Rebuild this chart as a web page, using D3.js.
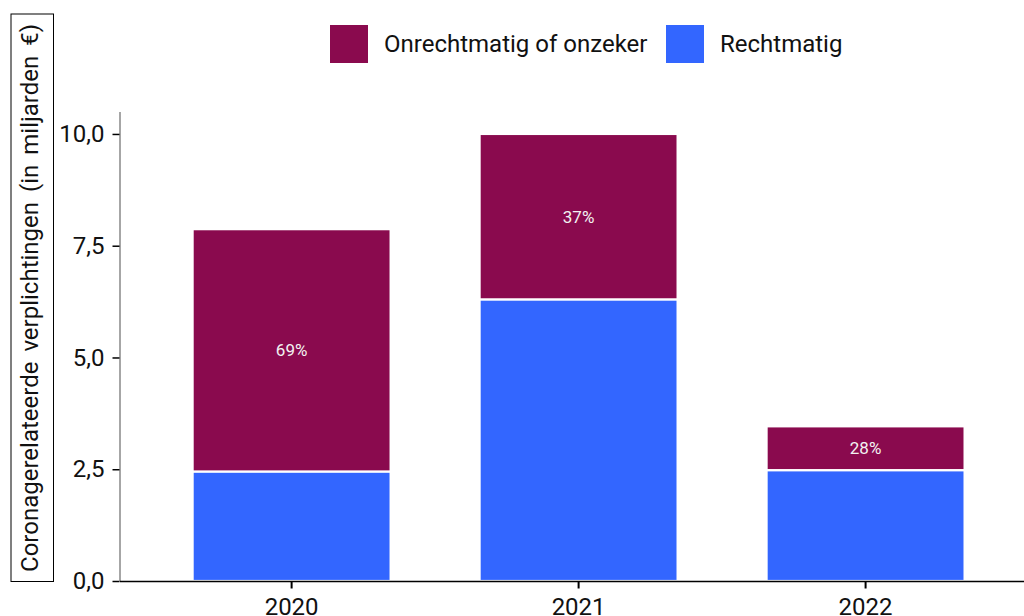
<!DOCTYPE html>
<html><head><meta charset="utf-8">
<script src="https://cdn.jsdelivr.net/npm/d3@7"></script>
<style>body{margin:0;background:#fff}svg{display:block;font-family:Roboto,sans-serif}</style>
</head><body><svg id="c" width="1024" height="616"></svg>
<script>
const years = ["2020","2021","2022"];
const rechtmatig = [2.45, 6.30, 2.48];
const onrechtmatig = [5.42, 3.70, 0.98];
const pctLabels = ["69%","37%","28%"];
const seriesNames = ["Onrechtmatig of onzeker","Rechtmatig"];
const seriesColors = ["#8A0A4E","#3366FF"];
const yTicks = [0, 2.5, 5, 7.5, 10];
const yTickLabels = ["0,0","2,5","5,0","7,5","10,0"];
const yTitle = "Coronagerelateerde verplichtingen (in miljarden €)";

const svg = d3.select("#c");
const x = d3.scaleBand().domain(years).range([120,1024]).paddingInner(0.31).paddingOuter(0.23).align(0.55);
const y = d3.scaleLinear().domain([0,10.5]).range([581,111.6]);

// bars
const g = svg.append("g");
years.forEach((yr,i)=>{
  const r = rechtmatig[i], o = onrechtmatig[i];
  g.append("rect").attr("x",x(yr)).attr("width",x.bandwidth())
    .attr("y",y(r)).attr("height",y(0)-y(r)).attr("fill",seriesColors[1])
    .attr("stroke","#fff").attr("stroke-width",2.2);
  g.append("rect").attr("x",x(yr)).attr("width",x.bandwidth())
    .attr("y",y(r+o)).attr("height",y(r)-y(r+o)).attr("fill",seriesColors[0])
    .attr("stroke","#fff").attr("stroke-width",2.2);
  g.append("text").attr("x",x(yr)+x.bandwidth()/2).attr("y",(y(r)+y(r+o))/2)
    .attr("text-anchor","middle").attr("dominant-baseline","central")
    .attr("fill","#f2f2f2").attr("font-size",17).text(pctLabels[i]);
});

// y axis
const ya = svg.append("g").attr("transform","translate(119.5,0)")
  .call(d3.axisLeft(y).tickValues(yTicks).tickFormat((d,i)=>yTickLabels[i]).tickSize(7).tickPadding(8).tickSizeOuter(0));
ya.select(".domain").attr("stroke","#888").attr("stroke-width",1.5);
ya.selectAll(".tick line").attr("stroke","#000").attr("stroke-width",1.5);
ya.selectAll(".tick text").attr("font-size",24).attr("fill","#111").attr("font-family","Roboto,sans-serif");

// x axis
const xa = svg.append("g").attr("transform","translate(0,581.5)")
  .call(d3.axisBottom(x).tickSize(7).tickPadding(9).tickSizeOuter(0));
xa.select(".domain").attr("stroke","#000").attr("stroke-width",1.5).attr("d","M120,0H1024");
xa.selectAll(".tick line").attr("stroke","#000").attr("stroke-width",2);
xa.selectAll(".tick text").attr("font-size",24).attr("fill","#111").attr("font-family","Roboto,sans-serif");

// y title with box
svg.append("rect").attr("x",11).attr("y",14).attr("width",42.5).attr("height",567.5)
  .attr("fill","none").attr("stroke","#000").attr("stroke-width",1);
svg.append("text").attr("transform","translate(37.5,298) rotate(-90)")
  .attr("text-anchor","middle")
  .attr("font-size",24).attr("fill","#111").attr("word-spacing",4).text(yTitle);

// legend
const legX = [330, 666];
seriesNames.forEach((n,i)=>{
  svg.append("rect").attr("x",legX[i]).attr("y",25).attr("width",38).attr("height",38).attr("fill",seriesColors[i]);
  svg.append("text").attr("x",legX[i]+54).attr("y",44).attr("dominant-baseline","central")
    .attr("font-size",24).attr("fill","#111").text(n);
});
</script></body></html>
